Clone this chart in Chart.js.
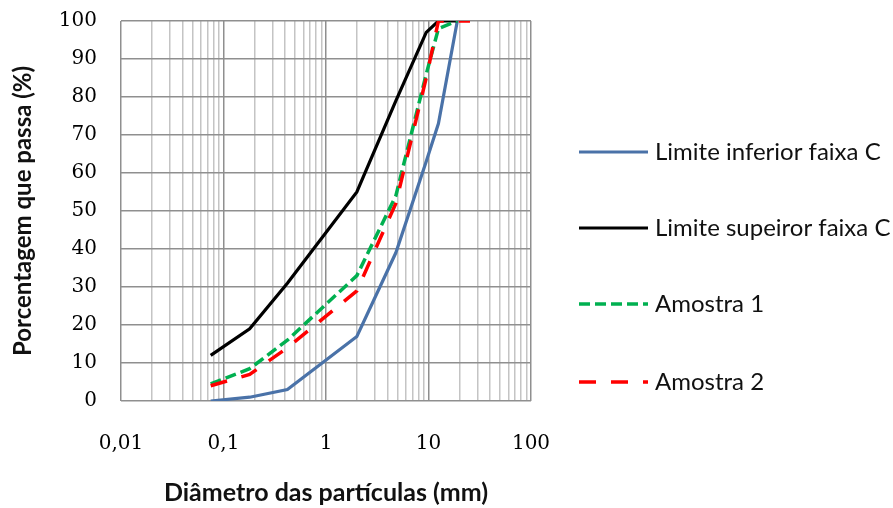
<!DOCTYPE html>
<html>
<head>
<meta charset="utf-8">
<script src="https://cdn.jsdelivr.net/npm/chart.js@4.4.1/dist/chart.umd.min.js"></script>
<style>
  html, body { margin: 0; padding: 0; background: #fff; overflow: hidden; }
</style>
</head>
<body>
<canvas id="curva" width="893" height="508"></canvas>
<script>
// abertura das peneiras (mm)
const diametros = [0.075, 0.18, 0.42, 2.0, 4.8, 9.5, 12.5, 19.1, 25.4];
// porcentagem que passa
const limiteInferior = [0, 1, 3, 17, 39, 63, 73, 100, null];
const limiteSuperior = [12, 19, 31, 55, 79, 97, 100, 100, null];
const amostra1 = [4.5, 8.5, 16, 33, 54, 86, 98, 100, null];
const amostra2 = [4, 7, 14, 29, 52, 85, 100, 100, 100];

const decadas = [0.01, 0.1, 1, 10, 100];
const rotulosX = ['0,01', '0,1', '1', '10', '100'];

function pontos(valores) {
    return diametros.map((d, i) => ({ x: d, y: valores[i] }));
}

// legenda desenhada ao lado, como no Excel
const legendaY = [152, 228, 304, 382];
const legendaPlugin = {
    id: 'legendaLateral',
    afterDraw(chart) {
        const ctx = chart.ctx;
        chart.data.datasets.forEach(function (ds, i) {
            const y = legendaY[i];
            ctx.save();
            ctx.strokeStyle = ds.borderColor;
            ctx.lineWidth = ds.borderWidth;
            ctx.setLineDash(ds.borderDash || []);
            ctx.beginPath();
            ctx.moveTo(579, y);
            ctx.lineTo(648, y);
            ctx.stroke();
            ctx.setLineDash([]);
            ctx.fillStyle = '#111';
            ctx.font = '24px Lato';
            ctx.textBaseline = 'middle';
            ctx.fillText(ds.label, 655, y);
            ctx.restore();
        });
    }
};

var ctx = document.getElementById('curva').getContext('2d');
var myChart = new Chart(ctx, {
    type: 'line',
    data: {
        datasets: [
            {
                label: 'Limite inferior faixa C',
                data: pontos(limiteInferior),
                borderColor: '#4a72a8',
                borderWidth: 3.2,
                order: 3,
            },
            {
                label: 'Limite supeiror faixa C',
                data: pontos(limiteSuperior),
                borderColor: '#000000',
                borderWidth: 3.2,
                order: 2,
            },
            {
                label: 'Amostra 1',
                data: pontos(amostra1),
                borderColor: '#00b050',
                borderWidth: 3.5,
                borderDash: [11, 5],
                order: 1,
            },
            {
                label: 'Amostra 2',
                data: pontos(amostra2),
                borderColor: '#ff0000',
                borderWidth: 3.5,
                borderDash: [17, 15],
                order: 0,
            },
        ],
    },
    options: {
        responsive: false,
        animation: false,
        layout: {
            padding: { top: 21, right: 362, bottom: 0, left: 0 }
        },
        elements: {
            point: { radius: 0 },
            line: { tension: 0, fill: false }
        },
        scales: {
            x: {
                type: 'logarithmic',
                min: 0.01,
                max: 100,
                afterBuildTicks: function (scale) {
                    const t = [];
                    decadas.forEach(function (d) {
                        if (d === 100) { t.push({ value: d }); return; }
                        for (let m = 1; m <= 9; m++) t.push({ value: m === 1 ? d : d * m });
                    });
                    scale.ticks = t;
                },
                afterFit: function (scale) { scale.height = 107; },
                grid: {
                    drawTicks: false,
                    color: function (c) {
                        return decadas.indexOf(c.tick.value) >= 0 ? '#8f8f8f' : '#c4c4c4';
                    },
                    lineWidth: 1.5,
                },
                border: { display: false },
                ticks: {
                    autoSkip: false,
                    maxRotation: 0,
                    padding: 31,
                    color: '#000',
                    font: { family: 'DejaVu Serif', size: 20 },
                    callback: function (value) {
                        const i = decadas.indexOf(value);
                        return i >= 0 ? rotulosX[i] : '';
                    }
                },
                title: {
                    display: true,
                    text: 'Diâmetro das partículas (mm)',
                    color: '#111',
                    font: { family: 'Lato', size: 25, weight: 'bold' },
                    padding: { top: 0, bottom: 0 }
                }
            },
            y: {
                min: 0,
                max: 100,
                afterFit: function (scale) {
                    scale.width = 121;
                    scale.paddingTop = 0;
                    scale.paddingBottom = 0;
                },
                grid: {
                    drawTicks: false,
                    color: '#8f8f8f',
                    lineWidth: 1.5,
                },
                border: { display: false },
                ticks: {
                    stepSize: 10,
                    padding: 24,
                    color: '#000',
                    font: { family: 'DejaVu Serif', size: 20 },
                },
                title: {
                    display: true,
                    text: 'Porcentagem que passa (%)',
                    color: '#111',
                    font: { family: 'Lato', size: 24, weight: 'bold' },
                    padding: { top: 9, bottom: 0 }
                }
            }
        },
        plugins: {
            legend: { display: false },
            tooltip: { enabled: false }
        }
    },
    plugins: [legendaPlugin]
});
</script>
</body>
</html>
